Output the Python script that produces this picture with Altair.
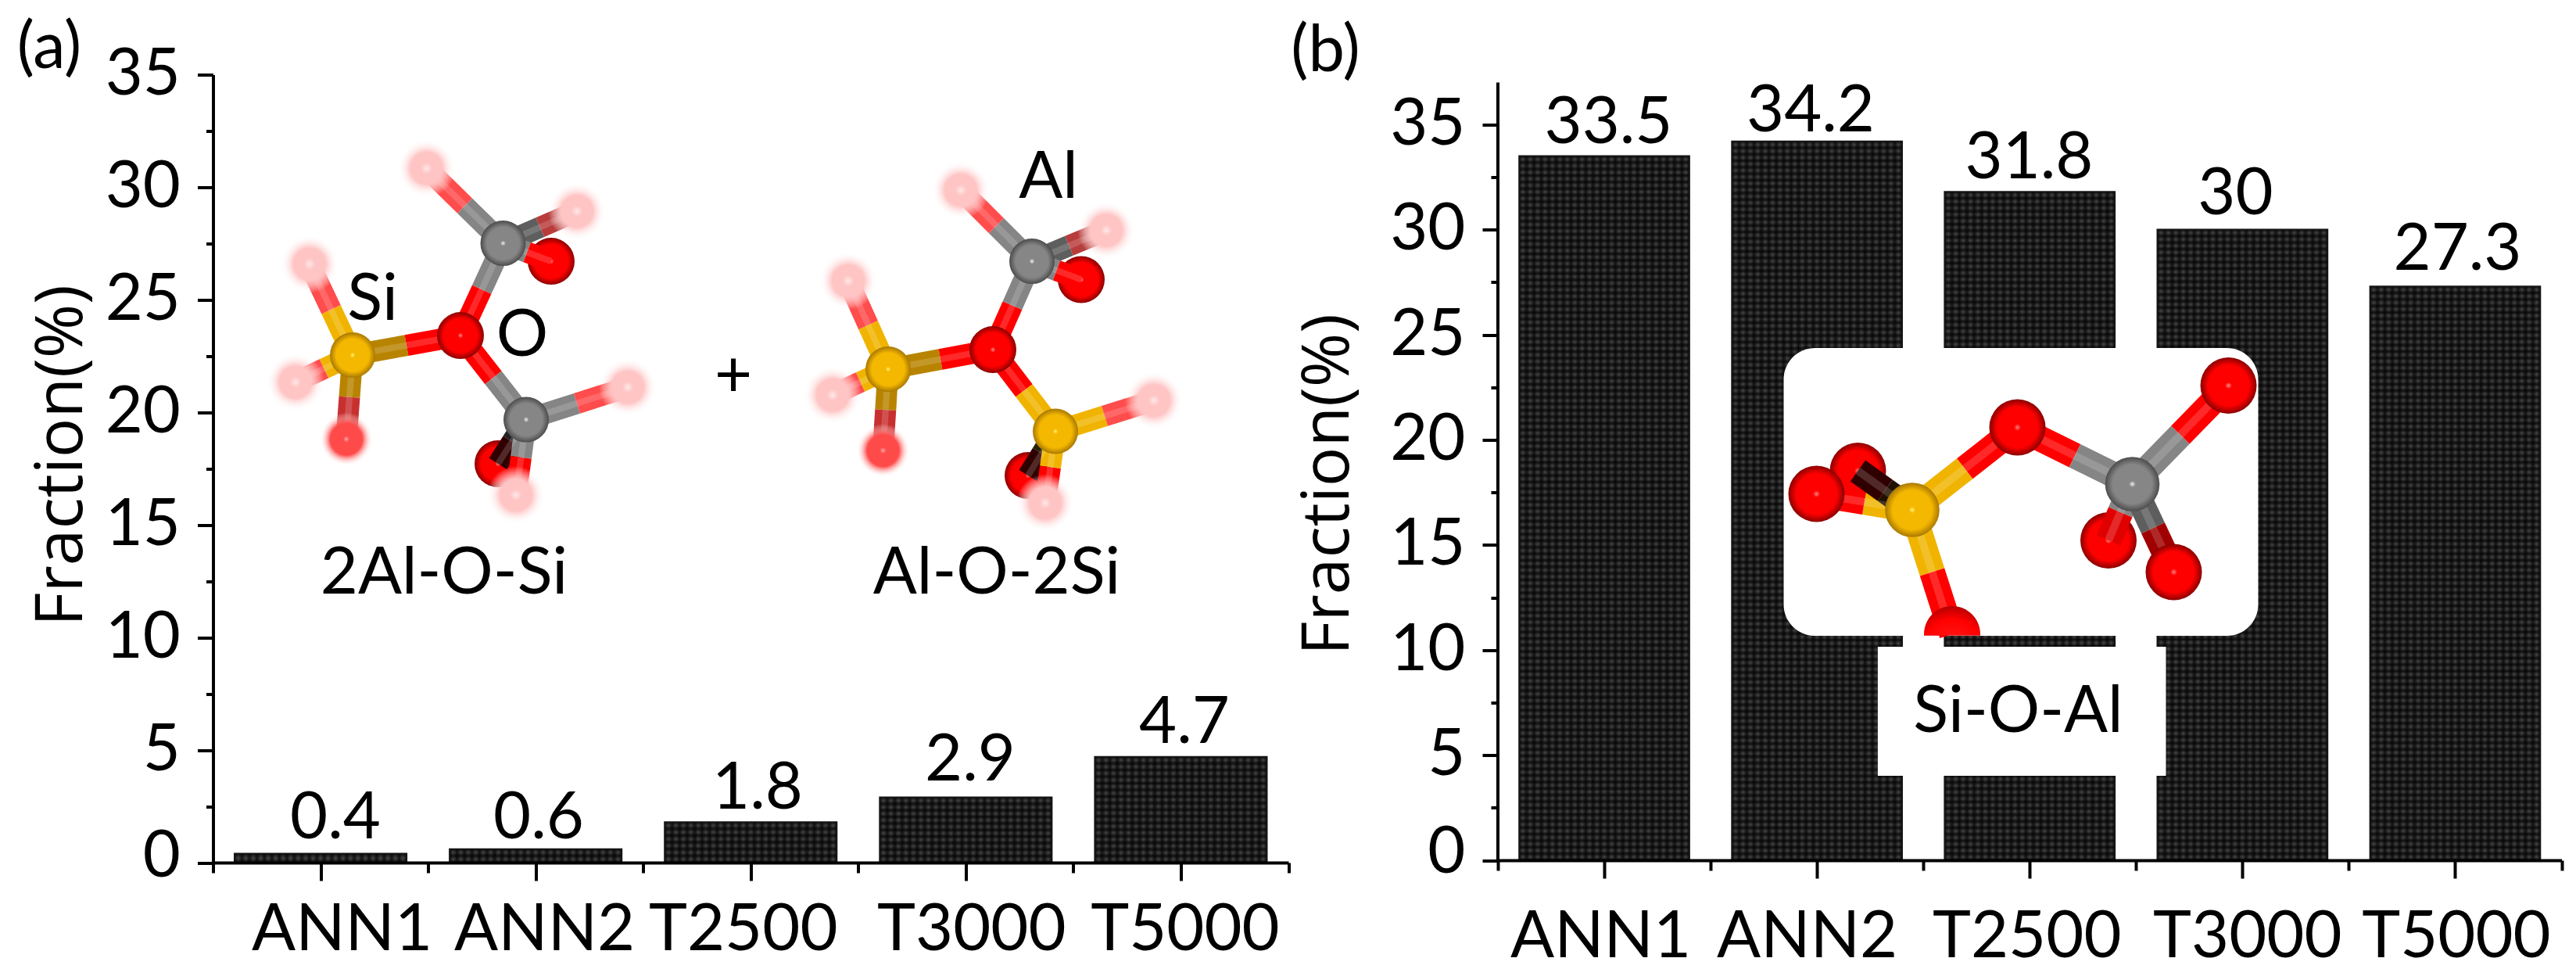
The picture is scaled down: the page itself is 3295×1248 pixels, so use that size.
import json
import altair as alt
import pandas as pd

CATEGORIES = ["ANN1", "ANN2", "T2500", "T3000", "T5000"]
VALUES_A = [0.4, 0.6, 1.8, 2.9, 4.7]
VALUES_B = [33.5, 34.2, 31.8, 30.0, 27.3]
LABELS_A = ["0.4", "0.6", "1.8", "2.9", "4.7"]
LABELS_B = ["33.5", "34.2", "31.8", "30", "27.3"]
FONT = "Lato"
TITLE_FONT = "Open Sans"
FS = 83

# panel frames, in picture pixels
A = dict(x0=272.5, y0=1103.0, w=1375.5, h=1007.5, ppx=275.1, ppy=28.79, ymax=35.0, k=1.0, bw=27)
B = dict(x0=1915.5, y0=1100.0, w=1360.5, h=1004.5, ppx=272.1, ppy=26.88, ymax=1004.5 / 26.88, k=1.2, bw=33)


def make_axes(p, x_offsets, title_x, title_y, y_zero_off, pad, axis_line):
    names = json.dumps(CATEGORIES)
    offs = json.dumps(x_offsets)
    p["ax"] = alt.Axis(
        values=[k / 2 for k in range(11)], title=None, grid=False, zindex=1,
        labelExpr=f"datum.value % 1 ? {names}[floor(datum.value)] : ''",
        labelOffset={"expr": f"({offs}[floor(datum.value)] || 0)"},
        tickSize={"expr": "datum.value % 1 ? 23 : 13"},
        labelFont=FONT, labelFontSize=FS, labelColor="black", labelPadding=pad, labelLimit=500,
        labelOverlap=False, labelFlush=False, labelBound=False,
        tickColor="black", tickWidth=4, domainColor="black", domainWidth=4)
    p["ay"] = alt.Axis(
        values=[k * 2.5 for k in range(15)], title="Fraction(%)", grid=False, zindex=1, domain=axis_line,
        labelExpr="datum.value % 5 ? '' : datum.label",
        labelOffset={"expr": f"datum.value == 0 ? {y_zero_off} : 0"},
        tickSize={"expr": "datum.value % 5 ? 9 : 20"},
        labelFont=FONT, labelFontSize=FS, labelColor="black", labelPadding=22, labelLimit=500,
        labelOverlap=False, labelFlush=False, labelBound=False,
        tickColor="black", tickWidth=4, domainColor="black", domainWidth=4,
        titleFont=TITLE_FONT, titleFontSize=84, titleFontWeight="normal", titleColor="black",
        titleLimit=1000, titleAngle=270, titleAlign="center", titleBaseline="middle",
        titleX=title_x - p["x0"], titleY=title_y - (p["y0"] - p["h"]))


def dx(p, px):
    return (px - p["x0"]) / p["ppx"]


def dy(p, py):
    return (p["y0"] - py) / p["ppy"]


def X(p, f="x:Q"):
    return alt.X(f, scale=alt.Scale(domain=[0, 5], nice=False, zero=False), axis=p["ax"])


def Y(p, f="y:Q"):
    return alt.Y(f, scale=alt.Scale(domain=[0, p["ymax"]], nice=False, zero=False), axis=p["ay"])


def stripes(n, dark, light, x1, y1, x2, y2):
    stops = []
    for i in range(n):
        stops.append({"offset": i / n, "color": dark})
        stops.append({"offset": (i + 0.5) / n, "color": light})
    stops.append({"offset": 1, "color": dark})
    return alt.Gradient(gradient="linear", x1=x1, y1=y1, x2=x2, y2=y2, stops=stops)


def sphere(core, mid, edge, a=0.12, b=0.72):
    return alt.Gradient(gradient="radial", x1=0.5, y1=0.5, r1=0, x2=0.5, y2=0.5, r2=0.5,
                        stops=[{"offset": 0, "color": core},
                               {"offset": a, "color": mid},
                               {"offset": b, "color": mid},
                               {"offset": 1, "color": edge}])


SKIN = {
    "O": (sphere("#ff8a8a", "#ff0000", "#8a0000"), 60),
    "Si": (sphere("#fff27a", "#f5b800", "#a87800"), 58),
    "Al": (sphere("#f4f4f4", "#868686", "#4c4c4c"), 58),
    "mid": (sphere("#ffa8a8", "#ff4a4a", "rgba(255,255,255,0)", 0.12, 0.6), 68),
    "ghost": (sphere("#ffe8e8", "#ffc4c4", "rgba(255,255,255,0)", 0.2, 0.55), 74),
}
RED, FADE, GREY, DGREY, GOLD, DGOLD = "#ff0000", "#ff4c4c", "#858585", "#5e5e5e", "#f0b400", "#b88400"


def atoms_layer(p, atoms, kinds):
    out = []
    for kind in kinds:
        rows = [{"x": dx(p, a[1]), "y": dy(p, a[2])} for a in atoms.values() if a[0] == kind]
        if not rows:
            continue
        grad, d = SKIN[kind]
        d = d * p["k"]
        out.append(alt.Chart(pd.DataFrame(rows)).mark_point(
            shape="circle", filled=True, fill=grad, size=d * d, opacity=1, strokeWidth=0
        ).encode(x=X(p), y=Y(p)))
    return out


def bonds_layer(p, atoms, bonds):
    rows = []
    for a, b, ca, cb in bonds:
        _, xa, ya = atoms[a]
        _, xb, yb = atoms[b]
        xm, ym = (xa + xb) / 2, (ya + yb) / 2
        rows.append({"x": dx(p, xa), "y": dy(p, ya), "x2": dx(p, xm), "y2": dy(p, ym), "c": ca})
        rows.append({"x": dx(p, xm), "y": dy(p, ym), "x2": dx(p, xb), "y2": dy(p, yb), "c": cb})
    df = pd.DataFrame(rows)
    base = alt.Chart(df).mark_rule(strokeWidth=p["bw"], opacity=1).encode(
        x=X(p), x2="x2:Q", y=Y(p), y2="y2:Q",
        color=alt.Color("c:N", scale=None, legend=None))
    shine = alt.Chart(df).mark_rule(strokeWidth=p["bw"] * 0.3, color="white", opacity=0.16).encode(
        x=X(p), x2="x2:Q", y=Y(p), y2="y2:Q")
    return [base, shine]


def texts_layer(p, rows, size=FS):
    df = pd.DataFrame([{"t": t, "x": dx(p, x), "y": dy(p, y)} for t, x, y in rows])
    return alt.Chart(df).mark_text(font=FONT, fontSize=size, color="black", align="center",
                                   baseline="middle").encode(x=X(p), y=Y(p), text="t:N")


def panel(p, values, bar_w):
    df = pd.DataFrame({"cat": CATEGORIES, "v": values})
    df["i"] = range(5)
    df["xa"] = df["i"] + 0.5 - bar_w / 2
    df["xb"] = df["i"] + 0.5 + bar_w / 2
    df["zero"] = 0.0
    layers = []
    for i, v in enumerate(values):
        n = max(1, round(v * p["ppy"] / 8.3))
        layers.append(alt.Chart(df[df.i == i]).mark_bar(
            fill=stripes(n, "#131313", "#474747", 0, 0, 0, 1), strokeWidth=0
        ).encode(x=X(p, "xa:Q"), x2="xb:Q", y=Y(p, "v:Q"), y2="zero:Q"))
    layers.append(alt.Chart(df).mark_bar(
        fill=stripes(23, "rgba(0,0,0,0.72)", "rgba(0,0,0,0)", 0, 0, 1, 0),
        stroke="#141414", strokeWidth=2
    ).encode(x=X(p, "xa:Q"), x2="xb:Q", y=Y(p, "v:Q"), y2="zero:Q"))
    return layers


# ---------- panel (a) ----------
MOL_A1 = {
    "si": ("Si", 451, 454), "o": ("O", 589, 429), "al1": ("Al", 643.5, 311), "al2": ("Al", 673, 536.5),
    "g1": ("ghost", 545.6, 215), "g2": ("ghost", 738, 270), "o1": ("O", 705, 334),
    "g3": ("ghost", 396, 337.5), "g4": ("ghost", 378, 488.5), "m1": ("mid", 443, 561.5),
    "g5": ("ghost", 803, 495), "o2": ("O", 637, 593), "g6": ("ghost", 660, 633),
}
BONDS_A1 = [
    ("si", "o", DGOLD, RED), ("o", "al1", RED, GREY), ("o", "al2", RED, GREY),
    ("al1", "g1", GREY, FADE), ("al1", "g2", DGREY, "#b83c3c"), ("al1", "o1", GREY, RED),
    ("si", "g3", GOLD, FADE), ("si", "g4", GOLD, FADE), ("si", "m1", DGOLD, "#c83030"),
    ("al2", "g5", GREY, FADE), ("al2", "o2", "#222222", "#300000"), ("al2", "g6", GREY, RED),
]
MOL_A2 = {
    "si": ("Si", 1136, 472), "o": ("O", 1270, 447), "al1": ("Al", 1320, 334), "si2": ("Si", 1350, 551.5),
    "g1": ("ghost", 1229, 243), "g2": ("ghost", 1415, 294.4), "o1": ("O", 1383, 357.4),
    "g3": ("ghost", 1085, 359), "g4": ("ghost", 1065, 505), "m1": ("mid", 1129.5, 576),
    "g5": ("ghost", 1476, 512), "o2": ("O", 1315, 608), "g6": ("ghost", 1337, 643),
}
BONDS_A2 = [
    ("si", "o", DGOLD, RED), ("o", "al1", RED, GREY), ("o", "si2", RED, GOLD),
    ("al1", "g1", GREY, FADE), ("al1", "g2", DGREY, "#b83c3c"), ("al1", "o1", GREY, RED),
    ("si", "g3", GOLD, FADE), ("si", "g4", GOLD, FADE), ("si", "m1", DGOLD, "#c83030"),
    ("si2", "g5", GOLD, FADE), ("si2", "o2", "#222200", "#300000"), ("si2", "g6", GOLD, RED),
]
TEXT_A = [
    ("Si", 476.6, 384), ("O", 668, 430), ("Al", 1341, 228), ("+", 938, 482),
    ("2Al-O-Si", 568, 734), ("Al-O-2Si", 1275, 734), ("(a)", 63, 62),
]
VALUE_POS_A = [(429, 1047), (689, 1047), (969, 1009), (1241, 973), (1515, 925)]

make_axes(A, [27, 11, -10, 7, 5], 79, 582, -8, 22, True)
a_layers = panel(A, VALUES_A, 0.8)
for mol, bonds in ((MOL_A1, BONDS_A1), (MOL_A2, BONDS_A2)):
    a_layers += atoms_layer(A, {k: v for k, v in mol.items() if k in ("o1", "o2")}, ["O"])
    a_layers += bonds_layer(A, mol, bonds)
    a_layers += atoms_layer(A, {k: v for k, v in mol.items() if k not in ("o1", "o2")},
                            ["mid", "ghost", "O", "Si", "Al"])
a_layers.append(texts_layer(A, TEXT_A + [(t, *xy) for t, xy in zip(LABELS_A, VALUE_POS_A)]))
chart_a = alt.layer(*a_layers).properties(width=A["w"], height=A["h"])

# ---------- panel (b) ----------
MOL_B = {
    "si": ("Si", 2445.5, 652), "o": ("O", 2580, 546.5), "al": ("Al", 2727, 619),
    "o1": ("O", 2850, 493), "o2": ("O", 2696.5, 691), "o3": ("O", 2780, 731.5),
    "o4": ("O", 2323, 631.6), "o5": ("O", 2376, 602),
}
BOTTOM_O = ("O", 2496.5, 811)
BONDS_B = [
    ("si", "o", GOLD, RED), ("o", "al", RED, GREY), ("al", "o1", GREY, RED),
    ("al", "o2", GREY, "#e00000"), ("al", "o3", DGREY, "#a00000"),
    ("si", "o4", GOLD, RED), ("si", "o5", "#201000", "#300000"),
]
BONDS_B_LOW = [("si", "ob", GOLD, RED)]
VALUE_POS_B = [(2057, 158), (2315.5, 143), (2595, 203), (2859, 249), (3143, 320)]

make_axes(B, [-5, -13, -4, 6, 1], 1699, 619, -10, 34, False)
b_layers = panel(B, VALUES_B, 0.8)
b_layers.append(alt.Chart(pd.DataFrame({"x": [0.0], "a": [0.0], "b": [37.0]})).mark_rule(
    color="black", strokeWidth=4).encode(x=X(B), y=Y(B, "a:Q"), y2="b:Q"))


def box(x1, x2, y1, y2, radius):
    df = pd.DataFrame({"x": [dx(B, x1)], "x2": [dx(B, x2)], "y": [dy(B, y1)], "y2": [dy(B, y2)]})
    return alt.Chart(df).mark_rect(fill="white", cornerRadius=radius).encode(
        x=X(B), x2="x2:Q", y=Y(B), y2="y2:Q")


b_layers.append(box(2281, 2888, 445, 813, 40))
b_layers.append(box(2401.4, 2770, 827, 992, 0))
b_layers += atoms_layer(B, {k: MOL_B[k] for k in ("o5", "o2")}, ["O"])
b_layers += bonds_layer(B, {**MOL_B, "ob": BOTTOM_O}, BONDS_B + BONDS_B_LOW)
half = pd.DataFrame({"x": [dx(B, BOTTOM_O[1])], "y": [dy(B, BOTTOM_O[2])]})
half_fill = alt.Gradient(gradient="radial", x1=0.5, y1=1, r1=0, x2=0.5, y2=1, r2=0.9,
                         stops=[{"offset": 0, "color": "#ff2020"}, {"offset": 0.6, "color": "#ff0000"},
                                {"offset": 1, "color": "#8a0000"}])
d_half = 60 * B["k"]
b_layers.append(alt.Chart(half).mark_point(
    shape="M -1 0 A 1 1 0 0 1 1 0 L 1 0.05 L -1 0.05 Z", filled=True, fill=half_fill,
    size=d_half * d_half, opacity=1, strokeWidth=0).encode(x=X(B), y=Y(B)))
b_layers += atoms_layer(B, {k: v for k, v in MOL_B.items() if k not in ("o5", "o2")}, ["O", "Si", "Al"])
b_layers.append(texts_layer(B, [("Si-O-Al", 2581, 911), ("(b)", 1695, 66)]
                            + [(t, *xy) for t, xy in zip(LABELS_B, VALUE_POS_B)]))
chart_b = alt.layer(*b_layers).properties(width=B["w"], height=B["h"])

chart = alt.hconcat(chart_a, chart_b, spacing=B["x0"] - A["x0"] - A["w"], bounds="flush").properties(
    autosize=alt.AutoSizeParams(type="none"),
    padding={"left": A["x0"] - 8, "top": A["y0"] - A["h"] - 8,
             "right": 3279 - (A["x0"] - 8), "bottom": 1232 - (A["y0"] - A["h"] - 8)},
    background="white",
).configure_view(stroke=None)

chart.save("out.html", embed_options={"renderer": "svg", "actions": False})
